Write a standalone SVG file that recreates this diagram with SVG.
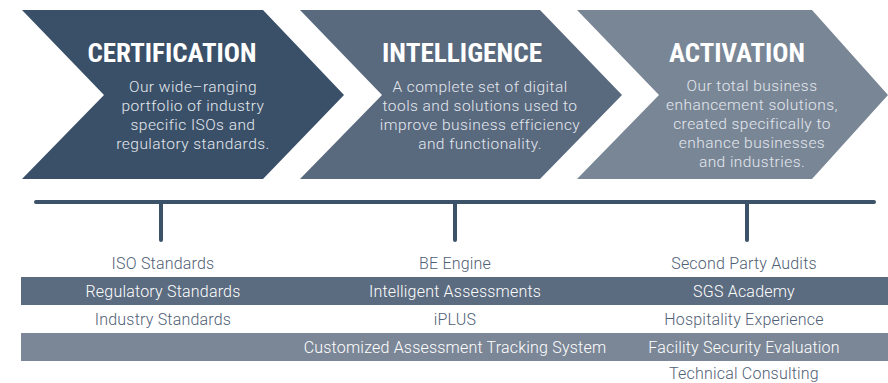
<svg xmlns="http://www.w3.org/2000/svg" width="888" height="383" viewBox="0 0 888 383">
<style>
.title{font-family:"Roboto Condensed","Roboto","Liberation Sans",sans-serif;font-weight:bold;font-size:25px;fill:#ffffff;text-anchor:middle}
.body{font-family:"Roboto","Liberation Sans",sans-serif;font-weight:300;font-size:15.5px;letter-spacing:0.45px;fill:#e4e8ee;text-anchor:middle}
.item{font-family:"Roboto","Liberation Sans",sans-serif;font-weight:300;font-size:16px;letter-spacing:0.2px;fill:#4f6075;text-anchor:middle}
.itemw{font-family:"Roboto","Liberation Sans",sans-serif;font-weight:300;font-size:16px;letter-spacing:0.2px;fill:#ffffff;text-anchor:middle}
.conn{stroke:#3b5269;stroke-width:4;stroke-linecap:round;fill:none}
</style>
<g id="certification">
<polygon points="22,10 263,10 344,95 263,179 22,179 104,95" fill="#3a5068"/>
<text class="title" x="172" y="62" textLength="169" lengthAdjust="spacingAndGlyphs">CERTIFICATION</text>
<text class="body" x="193" y="92">Our wide–ranging</text>
<text class="body" x="193" y="111">portfolio of industry</text>
<text class="body" x="193" y="130">specific ISOs and</text>
<text class="body" x="193" y="149">regulatory standards.</text>
</g>
<g id="intelligence">
<polygon points="300,10 540,10 622,95 540,179 300,179 382,95" fill="#59697e"/>
<text class="title" x="462" y="62" textLength="160" lengthAdjust="spacingAndGlyphs">INTELLIGENCE</text>
<text class="body" x="480" y="92">A complete set of digital</text>
<text class="body" x="480" y="111">tools and solutions used to</text>
<text class="body" x="480" y="130">improve business efficiency</text>
<text class="body" x="480" y="149">and functionality.</text>
</g>
<g id="activation">
<polygon points="577,10 812,10 888,95 812,179 577,179 659,95" fill="#798696"/>
<text class="title" x="737" y="62" textLength="136" lengthAdjust="spacingAndGlyphs">ACTIVATION</text>
<text class="body" x="752" y="91">Our total business</text>
<text class="body" x="752" y="110">enhancement solutions,</text>
<text class="body" x="752" y="129">created specifically to</text>
<text class="body" x="752" y="148">enhance businesses</text>
<text class="body" x="752" y="167">and industries.</text>
</g>
<g id="connectors">
<line class="conn" x1="36" y1="202" x2="874" y2="202"/>
<line class="conn" x1="161" y1="202" x2="161" y2="240"/>
<line class="conn" x1="455" y1="202" x2="455" y2="240"/>
<line class="conn" x1="747" y1="202" x2="747" y2="240"/>
</g>
<g id="bands">
<rect x="21" y="277" width="867" height="28" fill="#5b6b80"/>
<rect x="21" y="333" width="867" height="28" fill="#7b8797"/>
</g>
<g id="certification-items">
<text class="item" x="163" y="269">ISO Standards</text>
<text class="itemw" x="163" y="297">Regulatory Standards</text>
<text class="item" x="163" y="325">Industry Standards</text>
</g>
<g id="intelligence-items">
<text class="item" x="455" y="269">BE Engine</text>
<text class="itemw" x="455" y="297">Intelligent Assessments</text>
<text class="item" x="455" y="325">iPLUS</text>
<text class="itemw" x="455" y="353">Customized Assessment Tracking System</text>
</g>
<g id="activation-items">
<text class="item" x="744" y="269">Second Party Audits</text>
<text class="itemw" x="744" y="297">SGS Academy</text>
<text class="item" x="744" y="325">Hospitality Experience</text>
<text class="itemw" x="744" y="353">Facility Security Evaluation</text>
<text class="item" x="744" y="379">Technical Consulting</text>
</g>
</svg>
